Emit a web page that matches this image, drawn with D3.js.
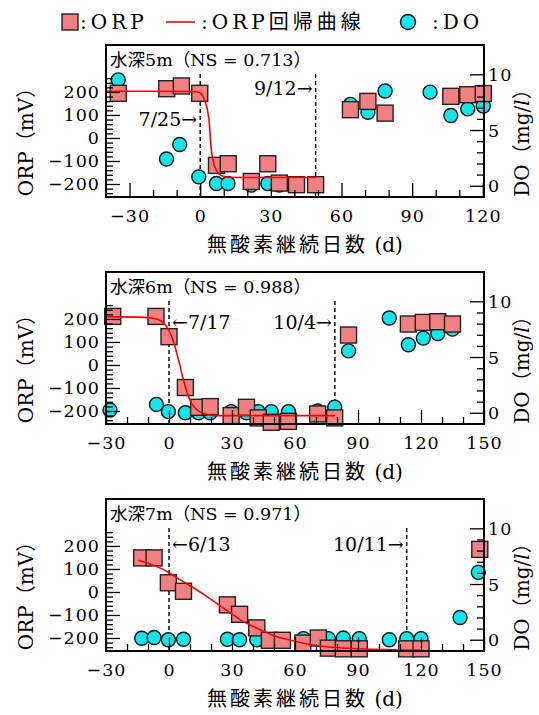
<!DOCTYPE html>
<html>
<head>
<meta charset="utf-8">
<script src="https://cdn.jsdelivr.net/npm/d3@7"></script>
<style>
body { margin: 0; background: #fff; }
</style>
</head>
<body>
<div id="chart"></div>
<script>
// 水深5m
let p1OrpDays = [-34.8, -14.2, -8.0, -0.2, 6.9, 11.9, 21.7, 28.7, 33.6, 40.9, 49.0, 63.8, 71.2, 78.5, 106.4, 113.6, 120.2]
let p1Orp     = [194, 214, 226, 194, -119, -112, -189, -112, -196, -203, -203, 123, 159, 108, 181, 188, 193]
let p1DoDays  = [-34.8, -14.3, -8.7, -0.6, 6.9, 11.8, 21.7, 28.7, 33.6, 63.8, 71.2, 78.5, 97.6, 106.4, 113.6, 120.2]
let p1Do      = [9.5, 2.4, 3.7, 0.8, 0.2, 0.2, 0.06, 0.2, 0.06, 7.3, 6.6, 8.5, 8.4, 6.3, 6.9, 7.15]
let p1FitDays = [-40, -3, -1, 0.5, 2, 3, 3.9, 4.6, 5.6, 7, 8.5, 10.5, 14, 49]
let p1Fit     = [203, 202, 199, 192, 160, 125, 60, -40, -105, -143, -160, -168, -172, -172]

// 水深6m
let p2OrpDays = [-26.8, -6.2, 0, 7.8, 14.1, 19.6, 29.6, 36.9, 42.5, 48.7, 56.9, 70.8, 78.9, 85.5, 114, 121.1, 128, 135]
let p2Orp     = [211, 211, 123, -98, -184, -181, -220, -184, -230, -249, -245, -213, -230, 130, 178, 185, 188, 178]
let p2DoDays  = [-28.1, -6.0, -0.3, 7.8, 14.1, 19.6, 29.6, 36.9, 42.5, 48.7, 56.9, 70.8, 78.9, 85.5, 104.9, 114, 121.1, 128, 135]
let p2Do      = [0.24, 0.75, 0.1, 0, 0, 0, 0.1, 0, 0.1, 0.1, 0.1, 0.15, 0.5, 5.55, 8.5, 6.1, 6.7, 7.1, 7.5]
let p2FitDays = [-30, -12, -6, -3, -1, 1, 3, 5, 7, 9, 11, 14, 18, 22, 79]
let p2Fit     = [210, 207, 200, 186, 165, 130, 75, 5, -70, -130, -170, -200, -215, -220, -220]

// 水深7m
let p3OrpDays = [-13.0, -7.1, -0.3, 6.9, 27.8, 33.6, 41.8, 47.8, 54.0, 63.7, 71.1, 75.9, 83.0, 90.6, 113.2, 120.0, 148.0]
let p3Orp     = [148, 148, 40, 3, -56, -97, -156, -210, -210, -222, -200, -244, -247, -247, -247, -247, 185]
let p3DoDays  = [-13.0, -7.1, -0.3, 6.9, 27.8, 33.6, 41.8, 64.0, 75.9, 83.0, 90.6, 104.9, 113.2, 120.0, 138.6, 147.3]
let p3Do      = [0.13, 0.2, 0, 0.05, 0.05, 0, 0, 0.1, 0.1, 0.15, 0.1, 0, 0.1, 0.1, 2.0, 6.05]
let p3FitDays = [-14.6, -0.5, 3.7, 7.7, 17.6, 25.8, 34, 43, 50, 59, 67, 75, 91, 105, 120]
let p3Fit     = [138, 87, 62, 40, -17, -69, -121, -162, -190, -212, -228, -238, -247, -251, -254]

let titles    = ["水深5m（NS = 0.713）", "水深6m（NS = 0.988）", "水深7m（NS = 0.971）"]
let xDomains  = [[-40, 120.5], [-30, 150], [-30, 150]]
let xTicks    = [[-30, 0, 30, 60, 90, 120], [-30, 0, 30, 60, 90, 120, 150], [-30, 0, 30, 60, 90, 120, 150]]
let markDays  = [[0, 49], [0, 79], [0, 113.2]]
let markTexts = [["7/25→", "9/12→"], ["←7/17", "10/4→"], ["←6/13", "10/11→"]]
let markOrp   = [[82, 217], [187, 187], [208, 208]]

let orpMajor = [-200, -100, 0, 100, 200]
let doMajor  = [0, 5, 10]

let width = 539
let height = 715
let left = 106, right = 484, boxH = 152
let tops = [45, 272, 499]

let serif = "'DejaVu Serif', 'Noto Sans CJK JP', serif"
let sqFill = '#f28080', doFill = '#0fe6ee'

let svg = d3.select('#chart')
            .append('svg')
            .attr('width', width)
            .attr('height', height)

let panels = [
    { od: p1OrpDays, o: p1Orp, dd: p1DoDays, d: p1Do, fd: p1FitDays, f: p1Fit },
    { od: p2OrpDays, o: p2Orp, dd: p2DoDays, d: p2Do, fd: p2FitDays, f: p2Fit },
    { od: p3OrpDays, o: p3Orp, dd: p3DoDays, d: p3Do, fd: p3FitDays, f: p3Fit }
]

panels.forEach((p, i) => {
    let top = tops[i]
    let g = svg.append('g')

    let x = d3.scaleLinear().domain(xDomains[i]).range([left, right])
    let yO = d3.scaleLinear().domain([-256.5, 404]).range([top + boxH, top])
    let yD = d3.scaleLinear().domain([-1.01, 12.63]).range([top + boxH, top])

    // dashed markers
    markDays[i].forEach(m => {
        g.append('line')
            .attr('x1', x(m)).attr('x2', x(m))
            .attr('y1', yO(278)).attr('y2', top + boxH)
            .attr('stroke', '#000').attr('stroke-width', 1.4)
            .attr('stroke-dasharray', '4,3')
    })
    markTexts[i].forEach((t, k) => {
        let toRight = t.startsWith('←')
        g.append('text')
            .attr('x', x(markDays[i][k]) + (toRight ? 3 : -3))
            .attr('y', yO(markOrp[i][k]))
            .attr('text-anchor', toRight ? 'start' : 'end')
            .attr('dominant-baseline', 'central')
            .attr('font-family', serif)
            .attr('font-size', 19)
            .text(t)
    })

    // DO circles
    g.selectAll('.do')
        .data(p.dd.map((d, k) => ({ day: d, v: p.d[k] })))
        .enter()
        .append('circle')
        .attr('cx', d => x(d.day))
        .attr('cy', d => yD(d.v))
        .attr('r', 7)
        .attr('fill', doFill)
        .attr('stroke', '#111')
        .attr('stroke-width', 1.4)

    // ORP squares
    g.selectAll('.orp')
        .data(p.od.map((d, k) => ({ day: d, v: p.o[k] })))
        .enter()
        .append('rect')
        .attr('x', d => x(d.day) - 8)
        .attr('y', d => yO(d.v) - 8)
        .attr('width', 16)
        .attr('height', 16)
        .attr('fill', sqFill)
        .attr('stroke', '#222')
        .attr('stroke-width', 1.4)

    // regression curve
    let line = d3.line()
                 .x(d => x(d[0]))
                 .y(d => yO(d[1]))
                 .curve(d3.curveMonotoneX)
    g.append('path')
        .datum(p.fd.map((d, k) => [d, p.f[k]]))
        .attr('d', line)
        .attr('fill', 'none')
        .attr('stroke', '#ff0000')
        .attr('stroke-width', 1.6)

    // axes, ticks inward
    let minorX = d3.range(Math.ceil(xDomains[i][0] / 10) * 10, xDomains[i][1] + 0.1, 10)
                   .filter(v => v % 30 != 0)
    let minorO = d3.range(-240, 261, 20).filter(v => v % 100 != 0)
    let minorD = d3.range(1, 10).filter(v => v != 5)

    let axes = [
        [d3.axisBottom(x).tickValues(minorX).tickSize(-7).tickFormat(''), `translate(0,${top + boxH})`],
        [d3.axisBottom(x).tickValues(xTicks[i]).tickSize(-14).tickPadding(13).tickFormat(d3.format('d')), `translate(0,${top + boxH})`],
        [d3.axisLeft(yO).tickValues(minorO).tickSize(-7).tickFormat(''), `translate(${left},0)`],
        [d3.axisLeft(yO).tickValues(orpMajor).tickSize(-14).tickPadding(6).tickFormat(d3.format('d')), `translate(${left},0)`],
        [d3.axisRight(yD).tickValues(minorD).tickSize(-7).tickFormat(''), `translate(${right},0)`],
        [d3.axisRight(yD).tickValues(doMajor).tickSize(-14).tickPadding(4).tickFormat(d3.format('d')), `translate(${right},0)`]
    ]
    axes.forEach(a => {
        let ag = g.append('g').attr('transform', a[1]).call(a[0])
        ag.select('.domain').remove()
        ag.selectAll('line').attr('stroke', '#000').attr('stroke-width', 1.3)
        ag.attr('font-family', serif).attr('font-size', 17.5)
        ag.selectAll('text').attr('fill', '#000').style('letter-spacing', '1px')
    })
    g.selectAll('text').filter(function () { return this.getAttribute('dy') == '0.32em' })
        .attr('dy', null).attr('dominant-baseline', 'central')

    // frame
    g.append('rect')
        .attr('x', left).attr('y', top)
        .attr('width', right - left).attr('height', boxH)
        .attr('fill', 'none')
        .attr('stroke', '#000')
        .attr('stroke-width', 2)

    g.append('text')
        .attr('x', left + 4).attr('y', top + 15)
        .attr('dominant-baseline', 'central')
        .attr('font-family', serif)
        .attr('font-size', 17.5)
        .text(titles[i])

    // axis titles
    g.append('text')
        .attr('transform', `translate(26,${top + 92}) rotate(-90)`)
        .attr('text-anchor', 'middle')
        .attr('dominant-baseline', 'central')
        .attr('font-family', serif)
        .attr('font-size', 20)
        .text('ORP（mV）')

    let dt = g.append('text')
        .attr('transform', `translate(522,${top + 93}) rotate(-90)`)
        .attr('text-anchor', 'middle')
        .attr('dominant-baseline', 'central')
        .attr('font-family', serif)
        .attr('font-size', 20)
    dt.append('tspan').text('DO（mg/')
    dt.append('tspan').attr('font-style', 'italic').text('l')
    dt.append('tspan').text('）')

    let xt = g.append('text')
        .attr('x', 305).attr('y', top + boxH + 48)
        .attr('text-anchor', 'middle')
        .attr('dominant-baseline', 'central')
        .attr('font-family', serif)
        .attr('font-size', 20)
    xt.append('tspan').style('letter-spacing', '3px').text('無酸素継続日数')
    xt.append('tspan').text(' (d)')
})

// legend
let lg = svg.append('g').attr('font-family', serif).attr('font-size', 20)
lg.append('rect').attr('x', 62).attr('y', 14).attr('width', 16).attr('height', 16)
    .attr('fill', sqFill).attr('stroke', '#222').attr('stroke-width', 1.4)
lg.append('text').attr('x', 80).attr('y', 22).attr('dominant-baseline', 'central')
    .style('letter-spacing', '4px').text(':ORP')
lg.append('line').attr('x1', 166).attr('x2', 195).attr('y1', 22).attr('y2', 22)
    .attr('stroke', '#ff0000').attr('stroke-width', 1.6)
lg.append('text').attr('x', 201).attr('y', 22).attr('dominant-baseline', 'central')
    .style('letter-spacing', '4px').text(':ORP回帰曲線')
lg.append('circle').attr('cx', 408).attr('cy', 22).attr('r', 7.5)
    .attr('fill', doFill).attr('stroke', '#111').attr('stroke-width', 1.4)
lg.append('text').attr('x', 432).attr('y', 22).attr('dominant-baseline', 'central')
    .style('letter-spacing', '4px').text(':DO')
</script>
</body>
</html>
